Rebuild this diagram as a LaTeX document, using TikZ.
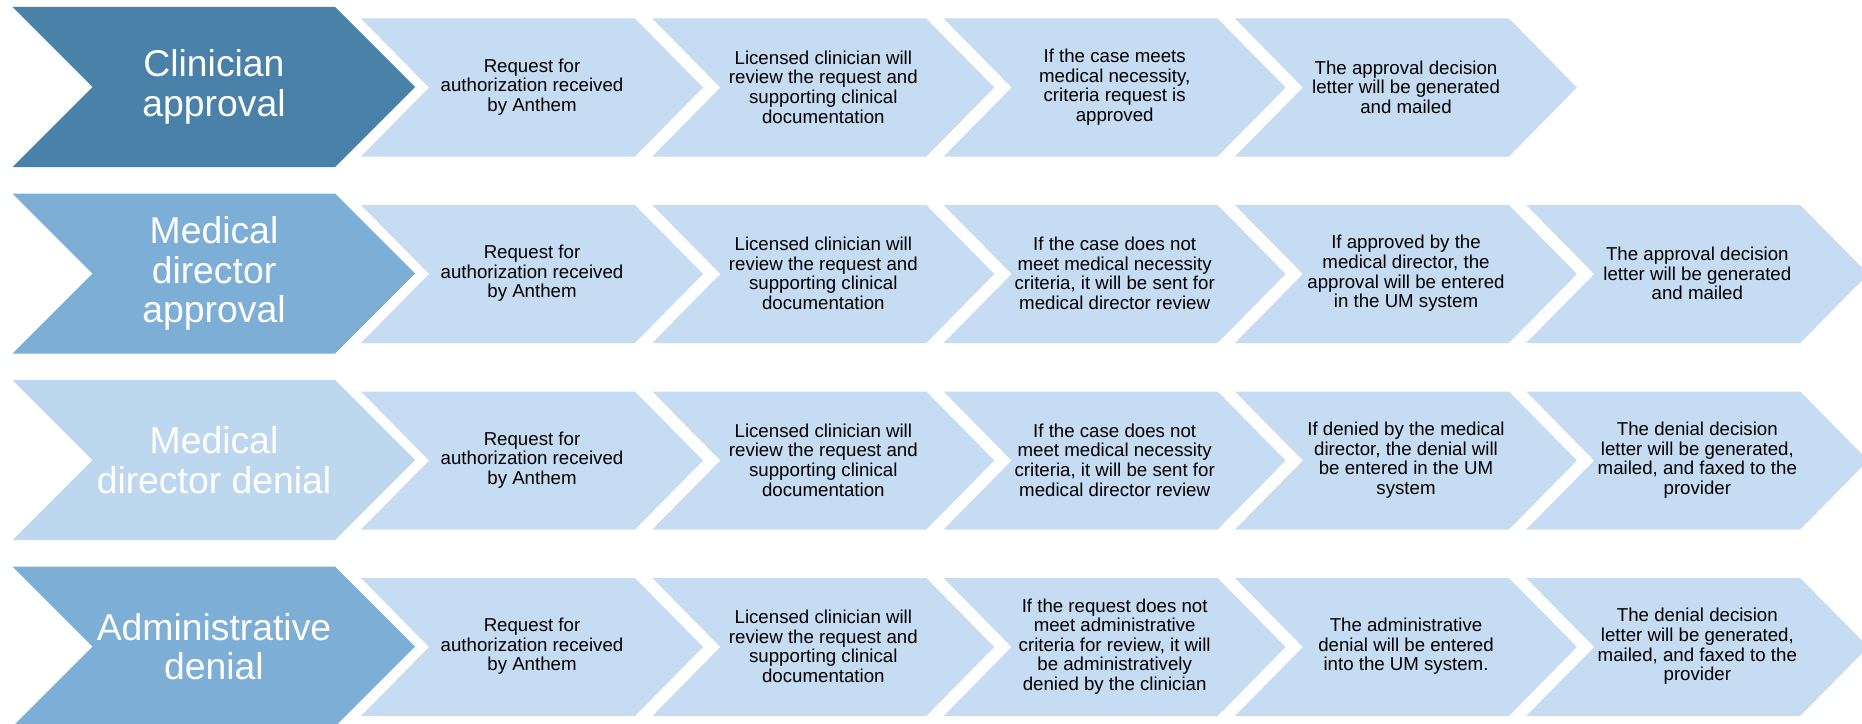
\documentclass[tikz,border=0pt]{standalone}
\usepackage{fontspec}
\setmainfont{Liberation Sans}
\usepackage{tikz}
\usetikzlibrary{positioning}

\definecolor{rowdark}{HTML}{4A81A9}
\definecolor{rowmid}{HTML}{7DAED6}
\definecolor{rowpale}{HTML}{BDD7EE}
\definecolor{stepfill}{HTML}{C5DCF2}

\begin{document}
\begin{tikzpicture}[x=0.75pt,y=-0.75pt,node distance=218.5pt,
  lane/.style={font=\fontsize{28}{29.5}\selectfont,text=white,align=center},
  stage/.style={font=\fontsize{14}{14.7}\selectfont,align=center}]
  \useasboundingbox (0,0) rectangle (1862,724);

  % big chevrons
  \foreach \r/\col in {0/rowdark,1/rowmid,2/rowpale,3/rowmid}
    \fill[\col] (12.5,7+186.5*\r) -- ++(322.5,0) -- ++(80,80) -- ++(-80,80)
      -- ++(-322.5,0) -- ++(80,-80) -- cycle;

  % step chevrons
  \foreach \r/\n in {0/3,1/4,2/4,3/4}
    \foreach \k in {0,...,\n}
      \fill[stepfill] (361+291.3*\k,18.5+186.5*\r) -- ++(274,0) -- ++(68,69)
        -- ++(-68,69) -- ++(-274,0) -- ++(68,-69) -- cycle;

  \node[lane] (clin) at (214,87) {Clinician\\approval};
  \node[lane] (mdapp) at (214,273.5) {Medical\\director\\approval};
  \node[lane] (mdden) at (214,460) {Medical\\director denial};
  \node[lane] (admin) at (214,646.5) {Administrative\\denial};

  \node[stage] (s11) at (532,87) {Request for\\authorization received\\by Anthem};
  \node[stage] (s12) [right of=s11] {Licensed clinician will\\review the request and\\supporting clinical\\documentation};
  \node[stage] (s13) [right of=s12] {If the case meets\\medical necessity,\\criteria request is\\approved};
  \node[stage] (s14) [right of=s13] {The approval decision\\letter will be generated\\and mailed};

  \node[stage] (s21) at (532,273.5) {Request for\\authorization received\\by Anthem};
  \node[stage] (s22) [right of=s21] {Licensed clinician will\\review the request and\\supporting clinical\\documentation};
  \node[stage] (s23) [right of=s22] {If the case does not\\meet medical necessity\\criteria, it will be sent for\\medical director review};
  \node[stage] (s24) [right of=s23] {If approved by the\\medical director, the\\approval will be entered\\in the UM system};
  \node[stage] (s25) [right of=s24] {The approval decision\\letter will be generated\\and mailed};

  \node[stage] (s31) at (532,460) {Request for\\authorization received\\by Anthem};
  \node[stage] (s32) [right of=s31] {Licensed clinician will\\review the request and\\supporting clinical\\documentation};
  \node[stage] (s33) [right of=s32] {If the case does not\\meet medical necessity\\criteria, it will be sent for\\medical director review};
  \node[stage] (s34) [right of=s33] {If denied by the medical\\director, the denial will\\be entered in the UM\\system};
  \node[stage] (s35) [right of=s34] {The denial decision\\letter will be generated,\\mailed, and faxed to the\\provider};

  \node[stage] (s41) at (532,646.5) {Request for\\authorization received\\by Anthem};
  \node[stage] (s42) [right of=s41] {Licensed clinician will\\review the request and\\supporting clinical\\documentation};
  \node[stage] (s43) [right of=s42] {If the request does not\\meet administrative\\criteria for review, it will\\be administratively\\denied by the clinician};
  \node[stage] (s44) [right of=s43] {The administrative\\denial will be entered\\into the UM system.};
  \node[stage] (s45) [right of=s44] {The denial decision\\letter will be generated,\\mailed, and faxed to the\\provider};
\end{tikzpicture}
\end{document}
